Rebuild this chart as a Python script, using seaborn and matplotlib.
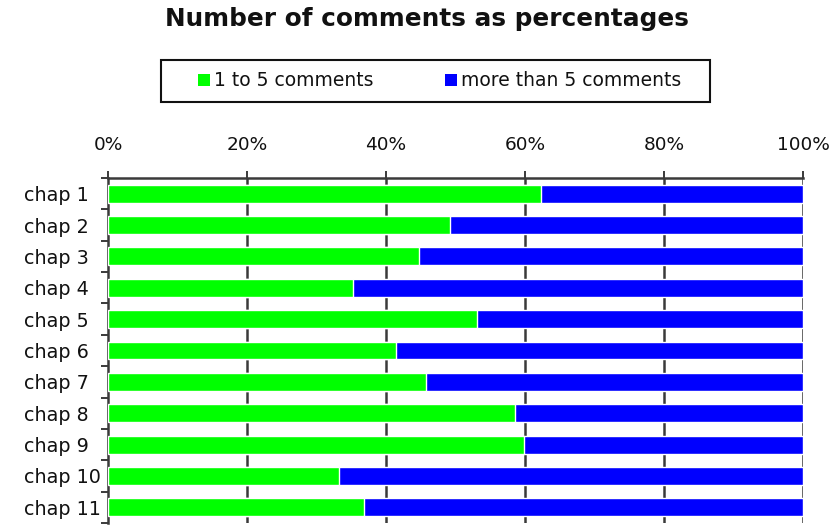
import matplotlib
matplotlib.use("Agg")
import matplotlib.pyplot as plt
import seaborn as sns
import pandas as pd
from matplotlib.patches import Patch, Rectangle

chapters = ["chap 1", "chap 2", "chap 3", "chap 4", "chap 5", "chap 6",
            "chap 7", "chap 8", "chap 9", "chap 10", "chap 11"]
few_comments = [62.3, 49.2, 44.8, 35.3, 53.1, 41.4, 45.7, 58.6, 59.8, 33.3, 36.8]
many_comments = [100 - v for v in few_comments]
series_names = ["1 to 5 comments", "more than 5 comments"]
xticks = [0, 20, 40, 60, 80, 100]

sns.set_theme(style="white")
plt.rcParams["font.family"] = ["DejaVu Sans"]

df = pd.DataFrame({"chapter": chapters, "few": few_comments, "many": many_comments})
df["total"] = df["few"] + df["many"]

W, H = 832, 525
fig = plt.figure(figsize=(W / 100, H / 100), dpi=100)
ax = fig.add_axes([108 / W, 1 - 523 / H, (803 - 108) / W, (523 - 178) / H])

green = "#00FF00"
blue = "#0000FF"
dark = "#3a3a3a"

for x in xticks[1:]:
    ax.axvline(x, color=dark, lw=1.8, zorder=0)

sns.barplot(data=df, y="chapter", x="total", color=blue, orient="h",
            width=0.57, ax=ax, saturation=1, zorder=2)
sns.barplot(data=df, y="chapter", x="few", color=green, orient="h",
            width=0.57, ax=ax, saturation=1, zorder=3)

ax.set_xlim(0, 100)
ax.set_ylim(len(chapters) - 0.5, -0.5)
ax.set_xlabel("")
ax.set_ylabel("")
ax.xaxis.tick_top()
ax.set_xticks(xticks)
ax.set_xticklabels([f"{t}%" for t in xticks], fontsize=13.3, color="#111111")
ax.tick_params(axis="x", which="major", length=5, width=1.4, color=dark, pad=12, top=True)
ax.set_yticks([i + 0.5 for i in range(-1, len(chapters))], minor=True)
# labels left-aligned, starting ~84 px left of the axis
ax.tick_params(axis="y", which="major", length=0, pad=84 * 0.72)
ax.tick_params(axis="y", which="minor", length=5, width=1.4, color=dark, left=True)
for lab in ax.get_yticklabels():
    lab.set_fontsize(13.8)
    lab.set_color("#111111")
    lab.set_horizontalalignment("left")

for side in ["right", "bottom"]:
    ax.spines[side].set_visible(False)
for side in ["top", "left"]:
    ax.spines[side].set_visible(True)
    ax.spines[side].set_color(dark)
    ax.spines[side].set_linewidth(1.8)

fig.text(426.5 / W, 1 - 19 / H, "Number of comments as percentages",
         ha="center", va="center", fontsize=17.8, fontweight="bold", color="#111111")

# legend box
fig.patches.append(Rectangle((161 / W, 1 - 102 / H), (710 - 161) / W, 42 / H,
                             transform=fig.transFigure, facecolor="white",
                             edgecolor="#111111", linewidth=1.5))
handles = [Patch(facecolor=green, edgecolor="none", label=series_names[0]),
           Patch(facecolor=blue, edgecolor="none", label=series_names[1])]
leg = fig.legend(handles=handles, loc="center left", bbox_to_anchor=(198 / W, 1 - 81 / H),
                 ncol=2, frameon=False, fontsize=13.5,
                 handlelength=0.62, handleheight=0.62, handletextpad=0.25,
                 columnspacing=3.8, borderpad=0.0, borderaxespad=0.0)
for t in leg.get_texts():
    t.set_color("#111111")

fig.savefig("out.png", dpi=100)
